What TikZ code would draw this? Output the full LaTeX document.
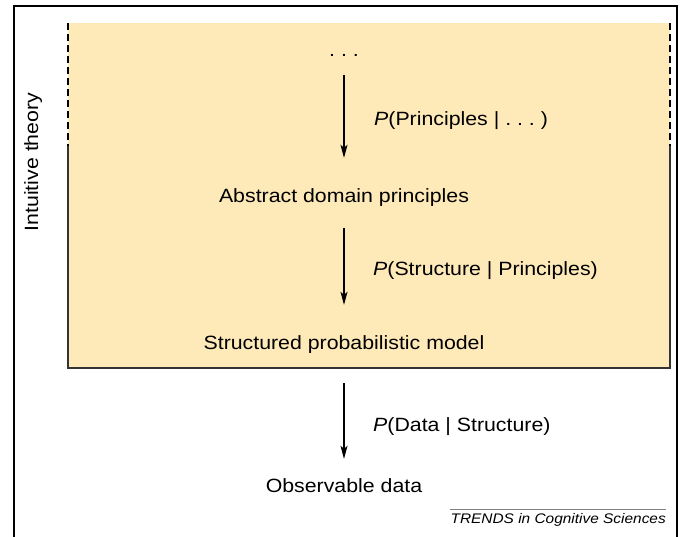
\documentclass[tikz,border=0pt]{standalone}
\usepackage{fontspec}
\setmainfont[FakeStretch=1.11]{Liberation Sans}
\usetikzlibrary{arrows.meta}
\definecolor{boxfill}{RGB}{254,233,185}
\begin{document}
\begin{tikzpicture}[x=1pt,y=-1pt,
  lbl/.style={font=\fontsize{19.2}{22}\selectfont, inner sep=0pt, text height=13.5pt, text depth=4pt, anchor=base},
  cond/.style={font=\fontsize{19.2}{22}\selectfont, inner sep=0pt, anchor=base west},
  arr/.style={-{Stealth[length=13pt,width=7pt,inset=3pt]}, line width=1.1pt},
  frame/.style={line width=2.5pt},
  boxedge/.style={line width=1.3pt, draw=black!80},
  dashedge/.style={line width=1.3pt, dash pattern=on 7pt off 4pt},
  rule/.style={line width=1pt, draw=black!50}]
\useasboundingbox (0,0) rectangle (683,536);
\draw[frame] (14,540) -- (14,6) -- (677,6) -- (677,540);
\fill[boxfill] (68,23) rectangle (670,368);
\draw[dashedge] (68,23) -- (68,146);
\draw[dashedge] (670,23) -- (670,146);
\draw[boxedge] (68,146) -- (68,368) -- (670,368) -- (670,146);

\node[lbl] (dots) at (344,56) {.\ .\ .};
\node[lbl] (abs) at (344,202) {Abstract domain principles};
\node[lbl] (struct) at (344,349) {Structured probabilistic model};
\node[lbl] (obs) at (344,492) {Observable data};

\draw[arr, shorten <=15pt, shorten >=30.5pt] (dots) -- (abs);
\draw[arr, shorten <=22pt, shorten >=30.5pt] (abs) -- (struct);
\draw[arr, shorten <=30pt, shorten >=19.5pt] (struct) -- (obs);

\node[cond] (c1) at (374,125) {\textit{P}(Principles | .\ .\ .\ )};
\node[cond] (c2) at (373,275) {\textit{P}(Structure | Principles)};
\node[cond] (c3) at (373,431) {\textit{P}(Data | Structure)};

\node[font=\fontsize{19.2}{22}\selectfont, inner sep=0pt, anchor=base, rotate=90] (theory) at (38,162) {Intuitive theory};

\node[font=\fontsize{13.9}{16}\selectfont\itshape, inner sep=0pt, anchor=base east] (trends) at (666,523) {TRENDS in Cognitive Sciences};
\draw[rule] (trends.west |- 0,509) -- (666,509);
\end{tikzpicture}
\end{document}
